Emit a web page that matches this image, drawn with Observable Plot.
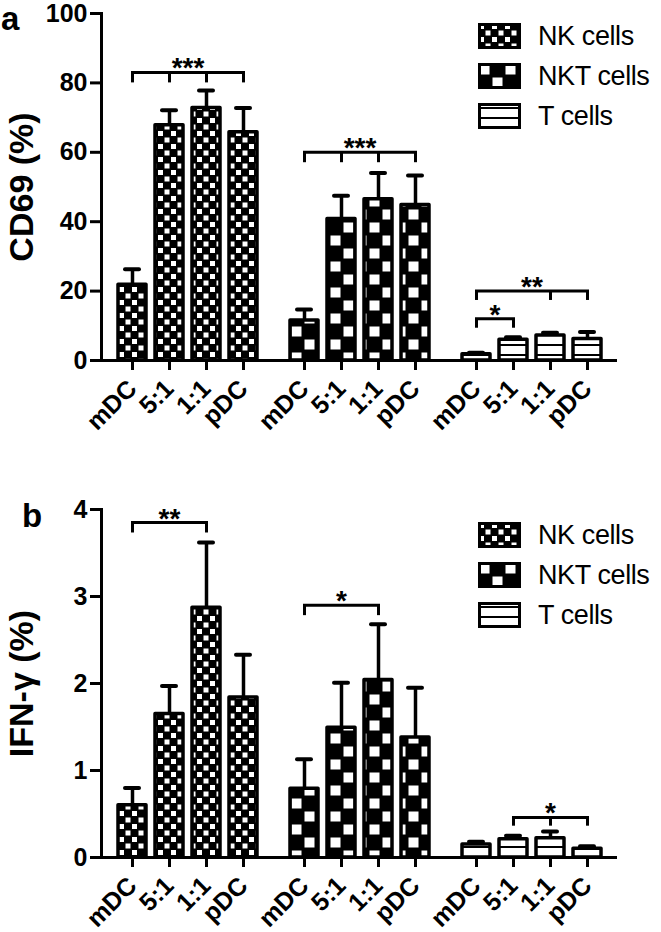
<!DOCTYPE html>
<html><head><meta charset="utf-8">
<script src="https://cdn.jsdelivr.net/npm/d3@7"></script>
<script src="https://cdn.jsdelivr.net/npm/@observablehq/plot@0.6"></script>
<style>
body{margin:0;background:#fff;font-family:"Liberation Sans",Arial,sans-serif;color:#000;}
#wrap{position:relative;width:661px;}
.panel{position:relative;width:661px;}
.panel svg.plot{display:block;}
.letter{position:absolute;font-weight:bold;font-size:33px;line-height:normal;}
.legend{position:absolute;left:478px;}
.legend .row{display:flex;align-items:center;height:40px;}
.legend .sw{width:43px;height:26px;display:block;}
.legend span{font-size:27px;margin-left:17px;letter-spacing:-0.4px;}
</style></head><body>
<svg width="0" height="0" style="position:absolute">
<defs>
<pattern id="pNK" patternUnits="userSpaceOnUse" width="13" height="13">
 <rect width="13" height="13" fill="#000"/>
 <rect x="1" y="1" width="5" height="5" fill="#fff"/>
 <rect x="7.5" y="7.5" width="5" height="5" fill="#fff"/>
</pattern>
<pattern id="pNKT" patternUnits="userSpaceOnUse" width="26" height="26">
 <rect width="26" height="26" fill="#000"/>
 <rect x="1.5" y="1.5" width="10" height="10" fill="#fff"/>
 <rect x="14.5" y="14.5" width="10" height="10" fill="#fff"/>
</pattern>
<pattern id="pT" patternUnits="userSpaceOnUse" width="10" height="10">
 <rect width="10" height="10" fill="#fff"/>
 <rect y="4" width="10" height="2" fill="#000"/>
</pattern>
</defs></svg>
<div id="wrap">
 <div class="panel" id="pa"><div class="letter" style="left:1px;top:0px">a</div></div>
 <div class="panel" id="pb"><div class="letter" style="left:22px;top:25px">b</div></div>
</div>
<script>
// ---- data ----
const conditions = ["mDC", "5:1", "1:1", "pDC"];
const cellTypes = ["NK cells", "NKT cells", "T cells"];

// CD69 (%) means and SEM
const cd69NK = [21.8, 67.8, 72.8, 65.8];
const cd69NKsem = [4.5, 4.3, 5.0, 7.0];
const cd69NKT = [11.5, 40.8, 46.5, 44.8];
const cd69NKTsem = [3.2, 6.7, 7.5, 8.5];
const cd69T = [1.8, 6.0, 7.2, 6.2];
const cd69Tsem = [0.4, 0.7, 0.8, 2.0];

// IFN-γ (%) means and SEM
const ifnNK = [0.6, 1.65, 2.87, 1.84];
const ifnNKsem = [0.2, 0.32, 0.75, 0.49];
const ifnNKT = [0.79, 1.49, 2.04, 1.38];
const ifnNKTsem = [0.34, 0.52, 0.64, 0.57];
const ifnT = [0.15, 0.21, 0.22, 0.1];
const ifnTsem = [0.03, 0.04, 0.08, 0.03];

const cd69Ticks = [0, 20, 40, 60, 80, 100];
const ifnTicks = [0, 1, 2, 3, 4];

// significance brackets
const sigCD69 = [
  {group: "NK cells", from: "mDC", to: "pDC", y: 83, drop: 80, label: "***", ticks: ["mDC", "5:1", "1:1", "pDC"]},
  {group: "NKT cells", from: "mDC", to: "pDC", y: 60, drop: 57, label: "***", ticks: ["mDC", "5:1", "1:1", "pDC"]},
  {group: "T cells", from: "mDC", to: "5:1", y: 12, drop: 9.3, label: "*", ticks: ["mDC", "5:1"]},
  {group: "T cells", from: "mDC", to: "pDC", y: 20, drop: 17.3, label: "**", ticks: ["mDC", "1:1", "pDC"]}
];
const sigIFN = [
  {group: "NK cells", from: "mDC", to: "1:1", y: 3.85, drop: 3.73, label: "**", ticks: ["mDC", "1:1"]},
  {group: "NKT cells", from: "mDC", to: "1:1", y: 2.9, drop: 2.78, label: "*", ticks: ["mDC", "1:1"]},
  {group: "T cells", from: "5:1", to: "pDC", y: 0.46, drop: 0.36, label: "*", ticks: ["5:1", "1:1", "pDC"]}
];

const patterns = {"NK cells": "url(#pNK)", "NKT cells": "url(#pNKT)", "T cells": "url(#pT)"};

function buildRows(series) {
  return series.flatMap(([group, means, sems]) =>
    conditions.map((cond, i) => ({group, cond, mean: means[i], top: means[i] + sems[i]})));
}

function chart({rows, sig, yDomain, yTicks, yLabel, height, marginTop, marginBottom}) {
  const drops = sig.flatMap(s => s.ticks.map(c => ({group: s.group, cond: c, y1: s.drop, y2: s.y})));
  const mid = (index, scales, values, dims, ctx, next) => {
    const X = Array.from(values.x);
    for (const i of index) X[i] = (scales.x(sig[i].from) + scales.x(sig[i].to)) / 2;
    return next(index, scales, {...values, x: X}, dims, ctx);
  };
  const svg = Plot.plot({
    width: 661, height, marginLeft: 100, marginRight: 43, marginTop, marginBottom,
    style: {fontFamily: "Liberation Sans, Arial, sans-serif", fontSize: "25px", color: "#000", background: "transparent", overflow: "visible"},
    fx: {domain: cellTypes, padding: 0, axis: null, label: null},
    x: {domain: conditions, paddingInner: 0.25, paddingOuter: 0.435, label: null},
    y: {domain: yDomain},
    marks: [
      Plot.ruleX(rows, {fx: "group", x: "cond", y1: "mean", y2: "top", stroke: "#000", strokeWidth: 3.5}),
      Plot.tickY(rows, {fx: "group", x: "cond", y: "top", stroke: "#000", strokeWidth: 4, strokeLinecap: "round", insetLeft: 7, insetRight: 7}),
      ...cellTypes.map(t => Plot.barY(rows.filter(d => d.group === t), {
        fx: "group", x: "cond", y: "mean", fill: patterns[t], stroke: "#000", strokeWidth: 3.5, strokeLinejoin: "round"
      })),
      Plot.ruleX(drops, {fx: "group", x: "cond", y1: "y1", y2: "y2", stroke: "#000", strokeWidth: 3}),
      Plot.link(sig, {fx: "group", x1: "from", x2: "to", y1: "y", y2: "y", stroke: "#000", strokeWidth: 3, strokeLinecap: "square"}),
      Plot.text(sig, {fx: "group", x: "from", y: "y", text: "label", fontSize: 28, fontWeight: "bold", lineAnchor: "middle", dy: -4, render: mid}),
      Plot.ruleY([yDomain[0]], {stroke: "#000", strokeWidth: 3}),
      Plot.frame({anchor: "left", facetAnchor: "left", stroke: "#000", strokeWidth: 3}),
      Plot.axisY(yTicks, {tickSize: 11, tickPadding: 3, strokeWidth: 3, fontSize: 25, fontWeight: "bold", label: null, tickFormat: d => String(d)}),
      Plot.axisY([], {tickSize: 0, label: yLabel, labelAnchor: "center", labelArrow: "none", labelOffset: 93, fontSize: 34, fontWeight: "bold"}),
      Plot.axisX({tickSize: 10, strokeWidth: 3, tickRotate: -45, tickPadding: 14, fontSize: 25, fontWeight: "bold", label: null})
    ]
  });
  svg.classList.add("plot");
  return svg;
}

function legend(top) {
  const div = document.createElement("div");
  div.className = "legend";
  div.style.top = top + "px";
  for (const t of cellTypes) {
    const row = document.createElement("div");
    row.className = "row";
    row.innerHTML = `<svg class="sw" width="43" height="26"><rect x="1.5" y="1.5" width="40" height="23" fill="${patterns[t]}" stroke="#000" stroke-width="3"/></svg><span>${t}</span>`;
    div.appendChild(row);
  }
  return div;
}

const rowsA = buildRows([["NK cells", cd69NK, cd69NKsem], ["NKT cells", cd69NKT, cd69NKTsem], ["T cells", cd69T, cd69Tsem]]);
const rowsB = buildRows([["NK cells", ifnNK, ifnNKsem], ["NKT cells", ifnNKT, ifnNKTsem], ["T cells", ifnT, ifnTsem]]);

const pa = document.getElementById("pa");
pa.prepend(chart({rows: rowsA, sig: sigCD69, yDomain: [0, 100], yTicks: cd69Ticks, yLabel: "CD69 (%)", height: 472, marginTop: 13, marginBottom: 112}));
pa.appendChild(legend(16));

const pb = document.getElementById("pb");
pb.prepend(chart({rows: rowsB, sig: sigIFN, yDomain: [0, 4], yTicks: ifnTicks, yLabel: "IFN-γ (%)", height: 460, marginTop: 37, marginBottom: 75}));
pb.appendChild(legend(43));
</script>
</body></html>
